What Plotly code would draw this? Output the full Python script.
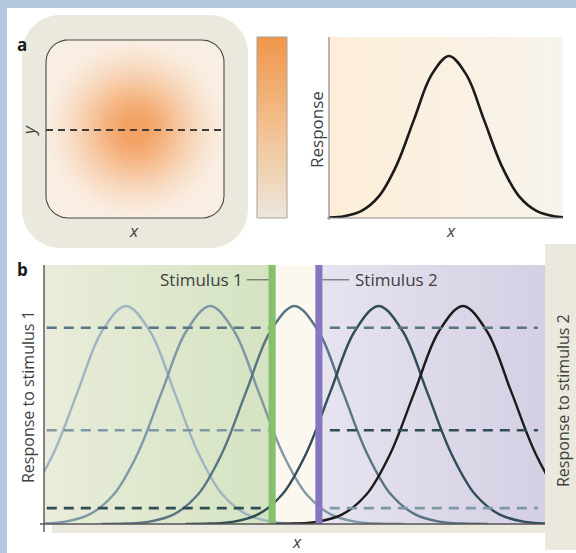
import numpy as np
import plotly.graph_objects as go

W, H = 576, 553

# ---------------- data ----------------
# shared tuning-curve profile, offsets in units of the curve's SD
tuning_offsets_sd = [-4, -3.5, -3, -2.5, -2, -1.5, -1, -0.5, 0,
                     0.5, 1, 1.5, 2, 2.5, 3, 3.5, 4]
tuning_response = [0.0003, 0.002, 0.011, 0.044, 0.135, 0.325, 0.607, 0.883, 1.0,
                   0.883, 0.607, 0.325, 0.135, 0.044, 0.011, 0.002, 0.0003]

# panel b: five neurons with preferred positions
neuron_centres = [1, 2, 3, 4, 5]
tuning_sd_b = 0.573
neuron_colours = ["#9fb4c2", "#7f98a6", "#587583", "#2f4c57", "#1b1b1b"]

stimulus_names = ["Stimulus 1", "Stimulus 2"]
stimulus_positions = [2.735, 3.29]
stimulus_colours = ["#86c06f", "#8676c0"]

# responses read at the dashed lines (level, neuron index)
stim1_levels = [0.90, 0.43, 0.073]
stim1_neuron = [2, 1, 3]
stim2_levels = [0.90, 0.43, 0.073]
stim2_neuron = [2, 3, 1]

# ---------------- helpers ----------------
def rrect(x0, y0, x1, y1, r, n=14):
    xs, ys = [], []
    corners = [(x1 - r, y0 + r, -90, 0), (x1 - r, y1 - r, 0, 90),
               (x0 + r, y1 - r, 90, 180), (x0 + r, y0 + r, 180, 270)]
    for cx, cy, a0, a1 in corners:
        a = np.radians(np.linspace(a0, a1, n))
        xs += list(cx + r * np.cos(a))
        ys += list(cy + r * np.sin(a))
    xs.append(xs[0]); ys.append(ys[0])
    return xs, ys

def rect(x0, y0, x1, y1):
    return [x0, x1, x1, x0, x0], [y0, y0, y1, y1, y0]

def hexmix(c0, c1, t):
    a = [int(c0[i:i + 2], 16) for i in (1, 3, 5)]
    b = [int(c1[i:i + 2], 16) for i in (1, 3, 5)]
    return "rgb(%d,%d,%d)" % tuple(round(a[k] + (b[k] - a[k]) * t) for k in range(3))

fig = go.Figure()

def deco(xs, ys, fill=None, grad=None, line=None, axis=("x", "y")):
    kw = dict(x=xs, y=ys, mode="lines", fill="toself", hoverinfo="skip",
              showlegend=False, xaxis=axis[0], yaxis=axis[1],
              line=line or dict(width=0, color="rgba(0,0,0,0)"))
    if grad is not None:
        kw["fillgradient"] = grad
    else:
        kw["fillcolor"] = fill
    fig.add_trace(go.Scatter(**kw))

# ---------------- page decoration (pixel overlay axis) ----------------
blue = "#b4c7df"
beige = "#ebe8de"
deco(*rect(0, 0, W, 8), fill=blue)
deco(*rect(0, 0, 7, H), fill=blue)

# panel a, left: receptive-field map
deco(*rrect(22, 15, 248, 248, 38), fill=beige)
edge, peak = "#faf6ef", "#f3a060"
rad_stops = [0, 0.15, 0.3, 0.45, 0.6, 0.75, 0.9, 1.0]
rad_cs = [[t, hexmix(edge, peak, float(np.exp(-(t / 0.46) ** 2 / 2)))] for t in rad_stops]
deco(*rrect(46, 40, 224, 218, 22), grad=dict(type="radial", colorscale=rad_cs),
     line=dict(width=1.1, color="#4a4a4a"))
fig.add_trace(go.Scatter(x=[46, 221], y=[130, 130], mode="lines", hoverinfo="skip",
                         showlegend=False, xaxis="x", yaxis="y",
                         line=dict(color="#3c3c3c", width=2.2, dash="7px,5px")))
# colour scale bar
deco(*rect(257, 37, 287, 218),
     grad=dict(type="vertical", start=218, stop=37,
               colorscale=[[0, "#ede7dc"], [0.5, "#f2c08f"], [1, "#f0964b"]]),
     line=dict(width=1, color="#a8a29a"))

# panel a, right: background
deco(*rect(329, 37, 563, 218),
     grad=dict(type="horizontal", start=329, stop=563,
               colorscale=[[0, "#fdeed8"], [1, "#f7f3ec"]]))

# panel b: side/bottom strips
deco(*rect(52, 524, 545, 533), fill=beige)
deco(*rect(545, 244, 576, 550), fill=beige)

# ---------------- panel a right curve ----------------
fig.add_trace(go.Scatter(x=tuning_offsets_sd, y=tuning_response, mode="lines",
                         line=dict(color="#1b1b1b", width=2.6, shape="spline"),
                         hoverinfo="skip", showlegend=False, xaxis="x2", yaxis="y2"))

# ---------------- panel b ----------------
xr = [0.027, 5.974]
ymax = 1.188
half_bar = 0.042
s1, s2 = stimulus_positions
deco([xr[0], s1, s1, xr[0], xr[0]], [0, 0, ymax, ymax, 0],
     grad=dict(type="horizontal", start=xr[0], stop=s1,
               colorscale=[[0, "#e9ecda"], [1, "#d4e3c1"]]), axis=("x3", "y3"))
deco([s1, s2, s2, s1, s1], [0, 0, ymax, ymax, 0], fill="#fdf8ef", axis=("x3", "y3"))
deco([s2, xr[1], xr[1], s2, s2], [0, 0, ymax, ymax, 0],
     grad=dict(type="horizontal", start=s2, stop=xr[1],
               colorscale=[[0, "#e7e3ef"], [1, "#d4cfe3"]]), axis=("x3", "y3"))

for c, col in zip(neuron_centres, neuron_colours):
    xs = [c + o * tuning_sd_b for o in tuning_offsets_sd]
    fig.add_trace(go.Scatter(x=xs, y=tuning_response, mode="lines",
                             line=dict(color=col, width=2.4, shape="spline"),
                             hoverinfo="skip", showlegend=False, xaxis="x3", yaxis="y3"))

for lev, n in zip(stim1_levels, stim1_neuron):
    fig.add_trace(go.Scatter(x=[0.06, s1 - half_bar], y=[lev, lev], mode="lines",
                             line=dict(color=neuron_colours[n], width=2.6, dash="10px,7px"),
                             hoverinfo="skip", showlegend=False, xaxis="x3", yaxis="y3"))
for lev, n in zip(stim2_levels, stim2_neuron):
    fig.add_trace(go.Scatter(x=[3.42, 5.89], y=[lev, lev], mode="lines",
                             line=dict(color=neuron_colours[n], width=2.6, dash="10px,7px"),
                             hoverinfo="skip", showlegend=False, xaxis="x3", yaxis="y3"))

shapes = []
for s, col in zip(stimulus_positions, stimulus_colours):
    shapes.append(dict(type="rect", xref="x3", yref="y3", x0=s - half_bar, x1=s + half_bar,
                       y0=0, y1=ymax, fillcolor=col, line=dict(width=0), layer="above"))
lab_y = 1.12
shapes.append(dict(type="line", xref="x3", yref="y3", x0=s1 - 0.3, x1=s1 - half_bar,
                   y0=lab_y, y1=lab_y, line=dict(color="#555", width=1), layer="above"))
shapes.append(dict(type="line", xref="x3", yref="y3", x0=s2 + half_bar, x1=s2 + 0.36,
                   y0=lab_y, y1=lab_y, line=dict(color="#555", width=1), layer="above"))
# axis lines (pixel overlay)
for x0, y0, x1, y1, col, w in [(329, 37, 329, 220, "#8a8a8a", 1.2),
                               (327, 218, 563, 218, "#8a8a8a", 1.2),
                               (44, 265, 44, 532, "#555555", 1.4),
                               (40, 524, 545, 524, "#555555", 1.4)]:
    shapes.append(dict(type="line", xref="x", yref="y", x0=x0, y0=y0, x1=x1, y1=y1,
                       line=dict(color=col, width=w), layer="above"))

FONT = "Open Sans"
tc = "#404040"
ann = []
def txt(x, y, t, size=17, angle=0, xanchor="center", bold=False, ref=("x", "y")):
    ann.append(dict(x=x, y=y, xref=ref[0], yref=ref[1], text=("<b>%s</b>" % t) if bold else t,
                    showarrow=False, textangle=angle, xanchor=xanchor, yanchor="middle",
                    font=dict(family=FONT, size=size, color="#1a1a1a" if bold else tc)))

txt(22, 44, "a", 17, bold=True)
txt(28, 131, "<i>y</i>", 17, angle=-90)
txt(134, 230, "<i>x</i>", 17)
txt(316, 130, "Response", 17, angle=-90)
txt(451, 230, "<i>x</i>", 17)
txt(22, 269, "b", 17, bold=True)
txt(28, 397, "Response to stimulus 1", 16, angle=-90)
txt(563, 401, "Response to stimulus 2", 16, angle=-90)
txt(297, 541, "<i>x</i>", 17)
txt(s1 - 0.32, lab_y, stimulus_names[0], 17, xanchor="right", ref=("x3", "y3"))
txt(s2 + 0.40, lab_y, stimulus_names[1], 17, xanchor="left", ref=("x3", "y3"))

def dom_x(a, b):
    return [a / W, b / W]

def dom_y(top, bottom):
    return [1 - bottom / H, 1 - top / H]

hidden = dict(visible=False, fixedrange=True, showgrid=False, zeroline=False)
fig.update_layout(
    width=W, height=H, margin=dict(l=0, r=0, t=0, b=0),
    paper_bgcolor="white", plot_bgcolor="rgba(0,0,0,0)",
    xaxis=dict(hidden, domain=[0, 1], range=[0, W]),
    yaxis=dict(hidden, domain=[0, 1], range=[H, 0]),
    xaxis2=dict(hidden, domain=dom_x(329, 563), range=[-3.43, 3.26], anchor="y2"),
    yaxis2=dict(hidden, domain=dom_y(37, 218), range=[0, 1.117], anchor="x2"),
    xaxis3=dict(hidden, domain=dom_x(44, 545), range=xr, anchor="y3"),
    yaxis3=dict(hidden, domain=dom_y(265, 524), range=[0, ymax], anchor="x3"),
    shapes=shapes, annotations=ann, showlegend=False,
)
fig.write_html("out.html", config={"displayModeBar": False},
               post_script="document.body.style.margin='0';document.body.style.overflow='hidden';")
